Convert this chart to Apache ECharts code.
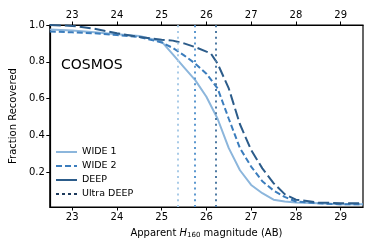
<!DOCTYPE html>
<html>
<head>
<meta charset="utf-8">
<script src="https://cdn.jsdelivr.net/npm/echarts@6/dist/echarts.min.js"></script>
<style>html,body{margin:0;padding:0;background:#fff}#c{width:374px;height:250px}</style>
</head>
<body>
<div id="c"></div>
<script>
var magTicks = [23, 24, 25, 26, 27, 28, 29];
var fracTicks = [0.2, 0.4, 0.6, 0.8, 1.0];

var wide1Mag  = [22.5, 23, 23.5, 24, 24.5, 25, 25.25, 25.5, 25.75, 26, 26.25, 26.5, 26.75, 27, 27.25, 27.5, 27.75, 28, 28.5, 29, 29.5];
var wide1Frac = [0.975, 0.97, 0.96, 0.95, 0.94, 0.91, 0.84, 0.77, 0.70, 0.61, 0.49, 0.33, 0.21, 0.13, 0.085, 0.05, 0.04, 0.035, 0.03, 0.025, 0.025];

var wide2Mag  = [22.5, 23, 23.5, 24, 24.5, 25, 25.25, 25.5, 25.75, 26, 26.25, 26.5, 26.75, 27, 27.25, 27.5, 27.75, 28, 28.5, 29, 29.5];
var wide2Frac = [0.965, 0.96, 0.955, 0.945, 0.935, 0.905, 0.875, 0.835, 0.79, 0.735, 0.655, 0.49, 0.33, 0.23, 0.15, 0.10, 0.065, 0.04, 0.03, 0.025, 0.025];

var deepMag  = [22.5, 23, 23.5, 24, 24.5, 25, 25.25, 25.5, 25.75, 26, 26.1, 26.25, 26.5, 26.75, 27, 27.25, 27.5, 27.75, 28, 28.5, 29, 29.5];
var deepFrac = [1.0, 0.995, 0.98, 0.955, 0.935, 0.92, 0.915, 0.90, 0.88, 0.855, 0.845, 0.79, 0.655, 0.46, 0.32, 0.22, 0.14, 0.08, 0.05, 0.035, 0.03, 0.03];

var limitNames = ['WIDE 1', 'WIDE 2', 'DEEP'];
var limitMags = [25.35, 25.75, 26.22];

var seriesNames = ['WIDE 1', 'WIDE 2', 'DEEP', 'Ultra DEEP'];

function pairs(xs, ys) { return xs.map(function (x, i) { return [x, ys[i]]; }); }

var F = 'DejaVu Sans';
var chart = echarts.init(document.getElementById('c'), null, {renderer: 'canvas'});
var axisCommon = {
  type: 'value', min: 22.5, max: 29.5,
  axisLine: {lineStyle: {color: '#000', width: 1.2}},
  axisTick: {inside: false, length: 3.5, lineStyle: {color: '#000'}, customValues: magTicks},
  axisLabel: {color: '#000', fontFamily: F, fontSize: 10, margin: 5, customValues: magTicks},
  splitLine: {show: false}
};
var dotted = [2, 3.8];
var legendData = seriesNames.map(function (n) {
  return n === 'DEEP' ? {name: n, lineStyle: {type: 'solid'}} : {name: n};
});
var option = {
  animation: false,
  grid: {left: 47, right: 11, top: 25, bottom: 43, show: true, borderColor: '#000', borderWidth: 1.2},
  title: {text: 'COSMOS', left: 56, top: 53, textStyle: {fontFamily: F, fontSize: 14, fontWeight: 'normal', color: '#000'}},
  legend: {
    orient: 'vertical', left: 50, top: 142, itemWidth: 21, itemHeight: 8, itemGap: 4,
    itemStyle: {color: 'transparent', borderColor: 'transparent', borderWidth: 0, opacity: 0},
    data: legendData, textStyle: {fontFamily: F, fontSize: 9.5, color: '#000'}
  },
  xAxis: [
    Object.assign({}, axisCommon, {
      position: 'bottom',
      name: '{n|Apparent }{i|H}{s|160}{n| magnitude (AB)}',
      nameLocation: 'middle', nameGap: 20,
      nameTextStyle: {rich: {
        n: {fontFamily: F, fontSize: 10, color: '#000'},
        i: {fontFamily: F, fontSize: 10, fontStyle: 'italic', color: '#000'},
        s: {fontFamily: F, fontSize: 7, color: '#000', verticalAlign: 'bottom', padding: [5, 0, 0, 0]}
      }}
    }),
    Object.assign({}, axisCommon, {position: 'top'})
  ],
  yAxis: {
    type: 'value', min: 0.01, max: 1.0,
    name: 'Fraction Recovered', nameLocation: 'middle', nameGap: 31,
    nameTextStyle: {fontFamily: F, fontSize: 10, color: '#000'},
    axisLine: {lineStyle: {color: '#000', width: 1.2}},
    axisTick: {length: 3.5, lineStyle: {color: '#000'}, customValues: fracTicks},
    axisLabel: {color: '#000', fontFamily: F, fontSize: 10, margin: 5, customValues: fracTicks,
      formatter: function (v) { return v.toFixed(1); }},
    splitLine: {show: false}
  },
  series: [
    {name: 'WIDE 1', type: 'line', symbol: 'none', data: pairs(wide1Mag, wide1Frac),
     lineStyle: {color: '#8cb6dc', width: 2, type: 'solid'}, itemStyle: {color: '#8cb6dc'},
     markLine: {silent: true, symbol: 'none', label: {show: false},
       lineStyle: {color: '#a9cbe8', width: 2, type: dotted}, data: [{xAxis: limitMags[0]}]}},
    {name: 'WIDE 2', type: 'line', symbol: 'none', data: pairs(wide2Mag, wide2Frac),
     lineStyle: {color: '#3b7dbd', width: 2, type: [6, 3]}, itemStyle: {color: '#3b7dbd'},
     markLine: {silent: true, symbol: 'none', label: {show: false},
       lineStyle: {color: '#5c98cf', width: 2, type: dotted}, data: [{xAxis: limitMags[1]}]}},
    {name: 'DEEP', type: 'line', symbol: 'none', data: pairs(deepMag, deepFrac),
     lineStyle: {color: '#2c5c8a', width: 2, type: [11, 4]}, itemStyle: {color: '#2c5c8a'},
     markLine: {silent: true, symbol: 'none', label: {show: false},
       lineStyle: {color: '#4f7ba3', width: 2, type: dotted}, data: [{xAxis: limitMags[2]}]}},
    {name: 'Ultra DEEP', type: 'line', symbol: 'none', data: [],
     lineStyle: {color: '#1d3a5c', width: 2, type: [3, 3]}, itemStyle: {color: '#1d3a5c'}}
  ]
};
chart.setOption(option);
</script>
</body>
</html>
